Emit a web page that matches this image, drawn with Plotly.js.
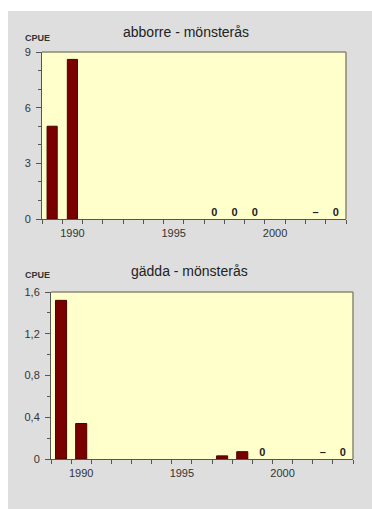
<!DOCTYPE html>
<html><head><meta charset="utf-8">
<script src="https://cdn.plot.ly/plotly-3.0.1.min.js"></script>
<style>
html,body{margin:0;padding:0;background:#fff;}
#chart{position:absolute;left:8px;top:11px;width:364px;height:498px;}
</style></head>
<body><div id="chart"></div>
<script>
// ---- data ----
const years = [1989,1990,1991,1992,1993,1994,1995,1996,1997,1998,1999,2000,2001,2002,2003];
const abborreYears = [1989, 1990];
const abborreCPUE = [5.0, 8.6];
const abborreZeroYears = [1997, 1998, 1999, 2002, 2003];
const abborreZeroText = ["0", "0", "0", "–", "0"];
const gaddaYears = [1989, 1990, 1997, 1998];
const gaddaCPUE = [1.52, 0.34, 0.03, 0.07];
const gaddaZeroYears = [1999, 2002, 2003];
const gaddaZeroText = ["0", "–", "0"];
const titleTop = "abborre - mönsterås";
const titleBottom = "gädda - mönsterås";
const yLabel = "CPUE";

// ---- layout helpers (pixel -> paper) ----
const W = 364, H = 498, OX = 8, OY = 11;
const px = x => (x - OX) / W;
const py = y => 1 - (y - OY) / H;

const barColor = '#7a0000';
const font = 'Liberation Sans, Arial, sans-serif';

const traces = [
  {type:'bar', x:abborreYears, y:abborreCPUE, width:0.5, xaxis:'x', yaxis:'y',
   marker:{color:barColor, line:{color:'#4a0000', width:1}}, hoverinfo:'x+y'},
  {type:'scatter', mode:'text', x:abborreZeroYears, y:abborreZeroYears.map(()=>0),
   text:abborreZeroText, textposition:'top center', xaxis:'x', yaxis:'y',
   textfont:{family:font, size:11, color:'#222', weight:'bold'}, cliponaxis:false},
  {type:'bar', x:gaddaYears, y:gaddaCPUE, width:0.55, xaxis:'x2', yaxis:'y2',
   marker:{color:barColor, line:{color:'#4a0000', width:1}}, hoverinfo:'x+y'},
  {type:'scatter', mode:'text', x:gaddaZeroYears, y:gaddaZeroYears.map(()=>0),
   text:gaddaZeroText, textposition:'top center', xaxis:'x2', yaxis:'y2',
   textfont:{family:font, size:11, color:'#222', weight:'bold'}, cliponaxis:false}
];

const xr = [years[0]-0.5, years[years.length-1]+0.5];
function xaxisDef(domain, anchor){
  return {domain:domain, anchor:anchor, range:xr, showgrid:false, zeroline:false,
    tickmode:'linear', tick0:1990, dtick:5, ticks:'', ticklen:0, ticklabelstandoff:4,
    tickfont:{family:font, size:11, color:'#333'},
    showline:true, linecolor:'#555', linewidth:1,
    minor:{tickmode:'linear', tick0:xr[0], dtick:1, ticks:'outside', ticklen:4, tickcolor:'#555', showgrid:false},
    fixedrange:true};
}
function yaxisDef(domain, anchor, range, dtick, minorDtick){
  return {domain:domain, anchor:anchor, range:range, showgrid:false, zeroline:false,
    tickmode:'linear', tick0:0, dtick:dtick, ticks:'outside', ticklen:5, tickcolor:'#555',
    ticklabelstandoff:3,
    tickfont:{family:font, size:11, color:'#333'},
    showline:true, linecolor:'#555', linewidth:1,
    minor:{tickmode:'linear', tick0:0, dtick:minorDtick, ticks:'outside', ticklen:3, tickcolor:'#555', showgrid:false},
    fixedrange:true};
}

const layout = {
  width:W, height:H, margin:{l:0,r:0,t:0,b:0},
  paper_bgcolor:'#dedede', plot_bgcolor:'#ffffcc',
  separators:', ', showlegend:false,
  xaxis: xaxisDef([px(42), px(346)], 'y'),
  yaxis: yaxisDef([py(219), py(52)], 'x', [0, 9], 3, 1),
  xaxis2: xaxisDef([px(51), px(353)], 'y2'),
  yaxis2: yaxisDef([py(459), py(292)], 'x2', [0, 1.6], 0.4, 0.2),
  shapes:[
    {type:'line', xref:'x domain', yref:'y domain', x0:0, x1:1, y0:1, y1:1, line:{color:'#8a8a70', width:1.5}},
    {type:'line', xref:'x domain', yref:'y domain', x0:1, x1:1, y0:0, y1:1, line:{color:'#8a8a70', width:1.5}},
    {type:'line', xref:'x2 domain', yref:'y2 domain', x0:0, x1:1, y0:1, y1:1, line:{color:'#8a8a70', width:1.5}},
    {type:'line', xref:'x2 domain', yref:'y2 domain', x0:1, x1:1, y0:0, y1:1, line:{color:'#8a8a70', width:1.5}}
  ],
  annotations:[
    {text:titleTop, xref:'paper', yref:'paper', x:px(186), y:py(32), xanchor:'center', yanchor:'middle',
     showarrow:false, font:{family:font, size:14, color:'#222'}},
    {text:titleBottom, xref:'paper', yref:'paper', x:px(189), y:py(271), xanchor:'center', yanchor:'middle',
     showarrow:false, font:{family:font, size:14, color:'#222'}},
    {text:yLabel, xref:'paper', yref:'paper', x:px(23), y:py(38), xanchor:'left', yanchor:'middle',
     showarrow:false, font:{family:font, size:9, color:'#333', weight:'bold'}},
    {text:yLabel, xref:'paper', yref:'paper', x:px(23), y:py(275), xanchor:'left', yanchor:'middle',
     showarrow:false, font:{family:font, size:9, color:'#333', weight:'bold'}}
  ]
};

Plotly.newPlot('chart', traces, layout, {displayModeBar:false, staticPlot:true});
</script>
</body></html>
